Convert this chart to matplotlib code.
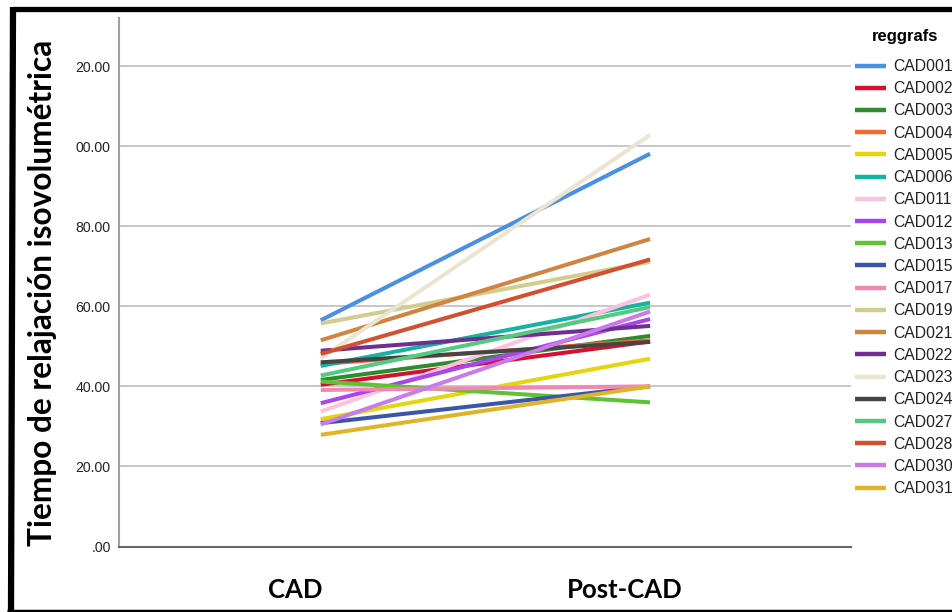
import matplotlib
matplotlib.use("Agg")
import matplotlib.pyplot as plt
from matplotlib.lines import Line2D
from matplotlib.transforms import ScaledTranslation

# Paired measurements per subject: before (CAD) and after (Post-CAD)
phases = ["CAD", "Post-CAD"]
subjects = ["CAD001", "CAD002", "CAD003", "CAD004", "CAD005", "CAD006", "CAD011",
            "CAD012", "CAD013", "CAD015", "CAD017", "CAD019", "CAD021", "CAD022",
            "CAD023", "CAD024", "CAD027", "CAD028", "CAD030", "CAD031"]
cad_values = [56.5, 40.4, 41.6, 45.6, 31.8, 45.1, 33.7, 35.8, 41.2, 30.8,
              39.1, 55.7, 51.5, 48.9, 47.0, 46.0, 42.7, 48.1, 30.5, 27.9]
post_values = [98.1, 51.2, 52.6, 51.5, 46.9, 60.9, 62.9, 56.8, 36.0, 40.0,
               40.0, 71.1, 76.8, 55.1, 102.8, 51.1, 59.8, 71.7, 58.7, 40.0]
colors = ["#4a90e2", "#d6102e", "#2e8b2e", "#f26b30", "#e3d50e", "#16b3a0",
          "#fbc2de", "#a845ee", "#5ec234", "#3a56a8", "#f387b2", "#d4cc8c",
          "#d08440", "#6e2f91", "#ebe4d0", "#454545", "#55c97f", "#d44f2d",
          "#c97ce9", "#e1b428"]
y_ticks = [0, 20, 40, 60, 80, 100, 120]
y_tick_labels = [".00", "20.00", "40.00", "60.00", "80.00", "00.00", "20.00"]

W, H = 953, 612
fig = plt.figure(figsize=(W / 100, H / 100), dpi=100)
fig.patch.set_facecolor("white")

ax = fig.add_axes([119 / W, 65.5 / H, (851 - 119) / W, (546.5 - 18) / H])
ax.set_xlim(-0.6125, 1.61)
ax.set_ylim(0, 132)

for name, a, b, c in zip(subjects, cad_values, post_values, colors):
    ax.plot([0, 1], [a, b], color=c, lw=2.9, solid_capstyle="butt", label=name)

ax.set_yticks(y_ticks)
ax.set_yticklabels(y_tick_labels, family="Liberation Sans", fontsize=10.2, color="#222222")
ax.yaxis.grid(True, color="#c8c8c8", lw=1.4)
ax.set_axisbelow(True)
ax.tick_params(axis="y", length=0, pad=6)

ax.set_xticks([0, 1])
ax.set_xticklabels(phases, family="Lato", fontweight="bold", fontsize=18.5, color="black")
ax.tick_params(axis="x", length=0, pad=23)
shift = ScaledTranslation(-25 / 100, 0, fig.dpi_scale_trans)
for lbl in ax.get_xticklabels():
    lbl.set_transform(lbl.get_transform() + shift)

for side in ("top", "right"):
    ax.spines[side].set_visible(False)
ax.spines["left"].set_color("#a0a0a0")
ax.spines["left"].set_linewidth(1.5)
ax.spines["bottom"].set_color("#666666")
ax.spines["bottom"].set_linewidth(1.5)

# vertical axis title
fig.text(43 / W, 1 - 292.5 / H, "Tiempo de relajación isovolumétrica", family="Lato",
         fontweight="bold", fontsize=22.8, color="black", rotation=90,
         ha="center", va="center")

# legend with its heading
fig.text(905 / W, 1 - 37 / H, "reggrafs", family="Liberation Sans", fontweight="bold",
         fontsize=12, color="black", ha="center", va="center")
leg = fig.legend(loc="upper left", bbox_to_anchor=(855 / W, 1 - 59 / H),
                 frameon=False, prop={"family": "Liberation Sans", "size": 11.3},
                 handlelength=2.0, handletextpad=0.45,
                 labelspacing=0.46, borderaxespad=0, borderpad=0)
for t in leg.get_texts():
    t.set_color("#222222")
for h in leg.legend_handles:
    h.set_linewidth(3.2)

# black frame around the figure (left, top, bottom)
fig.add_artist(Line2D([13 / W, 11 / W], [1 - 7 / H, 0], transform=fig.transFigure,
                      color="black", lw=4.5, solid_capstyle="butt"))
fig.add_artist(Line2D([12 / W, 1], [1 - 9 / H, 1 - 9 / H], transform=fig.transFigure,
                      color="black", lw=3.8, solid_capstyle="butt"))
fig.add_artist(Line2D([7 / W, 1], [1.3 / H, 1.3 / H], transform=fig.transFigure,
                      color="black", lw=2.5, solid_capstyle="butt"))

fig.savefig("out.png", dpi=100)
